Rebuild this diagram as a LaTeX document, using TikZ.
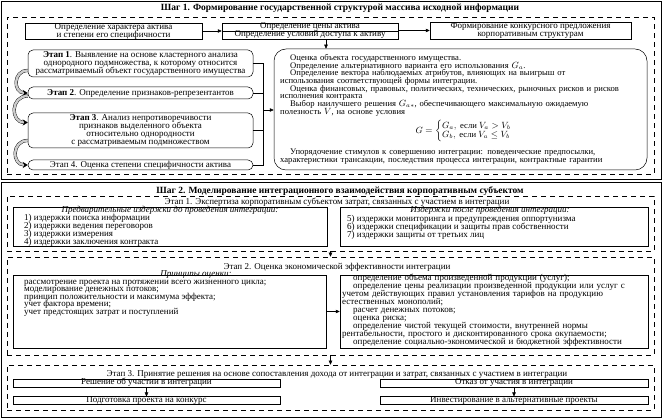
\documentclass[tikz,border=0pt]{standalone}
\usepackage{fontspec}
\setmainfont{Liberation Serif}
\usepackage{amsmath}
\usetikzlibrary{arrows.meta,positioning,calc}
\newcommand\txt{\fontsize{9}{8}\selectfont\lineskiplimit=-9pt\relax}
\newcommand\evtxt{\fontsize{8.6}{7.7}\selectfont\lineskiplimit=-9pt\relax}
\newcommand\prtxt{\fontsize{9}{7.5}\selectfont\lineskiplimit=-9pt\relax}
\newcommand\cltxt{\fontsize{9}{8.1}\selectfont\lineskiplimit=-9pt\relax}

\begin{document}
\begin{tikzpicture}[x=1pt,y=-1pt,
    every node/.style={font=\txt,inner sep=0pt},
    box/.style   ={draw,align=center,line width=0.5pt},
    thin box/.style={box,text height=5.6pt,text depth=1.6pt},
    stage/.style ={box,rounded corners=5pt},
    outer/.style ={draw,line width=0.9pt,minimum width=660},
    dframe/.style={draw,dash pattern=on 5pt off 4pt,line width=0.5pt,minimum width=647},
    ttl/.style   ={font=\fontsize{9.5}{9}\selectfont\bfseries},
    arr/.style   ={-{Triangle[length=4pt,width=3.5pt]},line width=0.5pt},
    twist/.style ={double=gray!40,double distance=2.4pt,line width=0.4pt,
                   -{Stealth[length=5pt,width=6pt]}},
  ]
  \useasboundingbox (0,0) rectangle (662,419);

  % ---------------- Step 1 ----------------
  \node[outer,minimum height=178] (s1) at (331,90) {};
  \node[ttl] (s1t) at (340,8)
    {Шаг 1. Формирование государственной структурой массива исходной информации};
  \node[dframe,minimum height=157] (s1f) at (330.5,95.5) {};

  % top row
  \node[box,minimum width=177,minimum height=16] (char) at (113.5,31)
    {Определение характера актива\\и степени его специфичности};
  \node[thin box,minimum width=176,minimum height=8] (price) at (310,27)
    {Определение цены актива};
  \node[thin box,minimum width=176,minimum height=8] (access) at (310,35)
    {Определение условий доступа к активу};
  \node[box,minimum width=201,minimum height=17] (offer) at (530.5,30.5)
    {Формирование конкурсного предложения\\корпоративным структурам};
  \draw[arr] (char.east) -- (char.east -| price.west);
  \draw[arr] (access.east |- offer.west) -- (offer.west);

  % evaluation block
  \node[box,rounded corners=12pt,minimum width=373,minimum height=121] (eval) at (460.5,109.5) {};
  \node[anchor=north west,align=left,text width=362,font=\evtxt] (evalt) at (280,54)
    {\hspace*{10pt}Оценка объекта государственного имущества.\\
     \hspace*{10pt}Определение альтернативного варианта его использования $G_a$.\\
     \hspace*{10pt}Определение вектора наблюдаемых атрибутов, влияющих на выигрыш от\\
     использования соответствующей формы интеграции.\\
     \hspace*{10pt}Оценка финансовых, правовых, политических, технических, рыночных рисков и рисков\\
     исполнения контракта\\
     \hspace*{10pt}Выбор наилучшего решения $G_{a*}$, обеспечивающего максимальную ожидаемую\\
     полезность $V$, на основе условия};
  \node[font=\evtxt] (evalf) at (468,131)
    {\renewcommand\arraystretch{0.85}$G=\begin{cases}G_a,\ \text{если } V_a>V_b\\ G_b,\ \text{если } V_a\le V_b\end{cases}$};
  \node[anchor=north west,align=left,text width=362,font=\evtxt] (evalb) at (280,149)
    {\hspace*{10pt}Упорядочение стимулов к совершению интеграции: поведенческие предпосылки,\\
     характеристики трансакции, последствия процесса интеграции, контрактные гарантии};
  \draw[arr] ([xshift=16pt]access.south) -- ([xshift=16pt]access.south |- eval.north);

  % stages
  \node[stage,minimum width=225,minimum height=27] (E1) at (140.5,63.5)
    {\textbf{Этап 1}. Выявление на основе кластерного анализа\\однородного подмножества, к которому относится\\рассматриваемый объект государственного имущества};
  \node[stage,minimum width=225,minimum height=12] (E2) at (140.5,93)
    {\textbf{Этап 2}. Определение признаков-репрезентантов};
  \node[stage,minimum width=225,minimum height=35] (E3) at (140.5,130.5)
    {\textbf{Этап 3}. Анализ непротиворечивости\\признаков выделенного объекта\\относительно однородности\\с рассматриваемым подмножеством};
  \node[stage,minimum width=225,minimum height=10] (E4) at (140.5,165)
    {Этап 4. Оценка степени специфичности актива};

  \coordinate (jn) at (263,110);
  \draw (E1.east) -| (jn);
  \draw (E4.east) -| (jn);
  \draw (E2.east) -- (E2.east -| jn);
  \draw (E3.east) -- (E3.east -| jn);
  \draw[arr] (jn) -- (jn -| eval.west);

  \draw[twist] ($(E1.west)+(0,7)$) to[out=180,in=180,looseness=1.7] (E2.west);
  \draw[twist] ($(E2.west)+(0,3)$) to[out=180,in=180,looseness=1.7] ($(E3.west)+(0,-8)$);
  \draw[twist] ($(E3.west)+(0,10)$) to[out=180,in=180,looseness=1.7] (E4.west);

  % ---------------- Step 2 ----------------
  \node[outer,minimum height=235] (s2) at (331,299.5) {};
  \node[ttl] (s2t) at (340,191)
    {Шаг 2. Моделирование интеграционного взаимодействия корпоративным субъектом};

  % stage 1: costs
  \node[dframe,minimum height=55] (f1) at (330.5,223.5) {};
  \node (f1t) at (337,202.5)
    {Этап 1. Экспертиза корпоративным субъектом затрат, связанных с участием в интеграции};
  \node[box,minimum width=314,minimum height=39] (pre) at (170,226.5) {};
  \node[box,minimum width=308,minimum height=39] (post) at (494,226.5) {};
  \node[font=\txt\itshape] (pret) at (170,210.5)
    {Предварительные издержки до проведения интеграции:};
  \node[font=\txt\itshape] (postt) at (490,210.5)
    {Издержки после проведения интеграции:};
  \node[anchor=north west,align=left] (prel) at (24,214)
    {1) издержки поиска информации\\2) издержки ведения переговоров\\3) издержки измерения\\4) издержки заключения контракта};
  \node[anchor=north west,align=left] (postl) at (347,215)
    {5) издержки мониторинга и предупреждения оппортунизма\\6) издержки спецификации и защиты прав собственности\\7) издержки защиты от третьих лиц};

  % stage 2: efficiency
  \node[dframe,minimum height=98] (f2) at (330.5,306) {};
  \node (f2t) at (337,267)
    {Этап 2. Оценка экономической эффективности интеграции};
  \node[box,minimum width=313,minimum height=73] (prin) at (169.5,311.5) {};
  \node[box,minimum width=308,minimum height=73] (calc) at (494,311.5) {};
  \node[font=\txt\itshape] (print) at (196,274.5) {Принципы оценки:};
  \node[anchor=north west,align=left,font=\prtxt] (prinl) at (24,280)
    {рассмотрение проекта на протяжении всего жизненного цикла;\\
     моделирование денежных потоков;\\
     принцип положительности и максимума эффекта;\\
     учет фактора времени;\\
     учет предстоящих затрат и поступлений};
  \node[anchor=north west,align=left,text width=304,font=\cltxt] (calcl) at (342,273.5)
    {\hspace*{11pt}определение объема произведенной продукции (услуг);\\
     \hspace*{11pt}определение цены реализации произведенной продукции или услуг с\\
     учетом действующих правил установления тарифов на продукцию\\
     естественных монополий;\\
     \hspace*{11pt}расчет денежных потоков;\\
     \hspace*{11pt}оценка риска;\\
     \hspace*{11pt}определение чистой текущей стоимости, внутренней нормы\\
     рентабельности, простого и дисконтированного срока окупаемости;\\
     \hspace*{11pt}определение социально-экономической и бюджетной эффективности};
  \draw[arr] (prin.east) -- (calc.west);

  % stage 3: decision
  \node[dframe,minimum height=45] (f3) at (330.5,387.5) {};
  \node (f3t) at (337,374)
    {Этап 3. Принятие решения на основе сопоставления дохода от интеграции и затрат, связанных с участием в интеграции};
  \node[thin box,minimum width=267,minimum height=8] (yes) at (146.5,383)
    {Решение об участии в интеграции};
  \node[thin box,minimum width=267,minimum height=7.5] (prep) at (146.5,400.5)
    {Подготовка проекта на конкурс};
  \node[thin box,minimum width=268,minimum height=8] (no) at (514,383)
    {Отказ от участия в интеграции};
  \node[thin box,minimum width=268,minimum height=7.5] (alt) at (514,400.5)
    {Инвестирование в альтернативные проекты};
  \draw[arr] (yes) -- (prep);
  \draw[arr] (no) -- (alt);

  \draw[arr] (f1.south) -- (f2.north);
  \draw[arr] (f2.south) -- (f3.north);
\end{tikzpicture}
\end{document}
